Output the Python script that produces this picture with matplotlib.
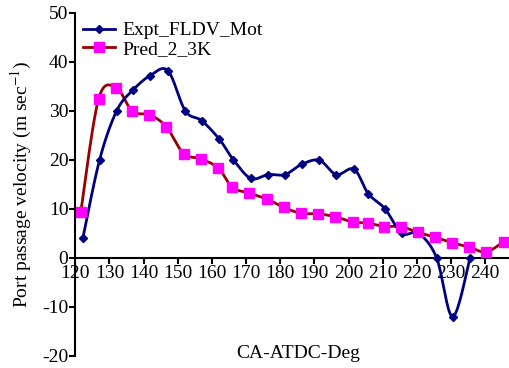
import matplotlib
matplotlib.use('Agg')
import matplotlib.pyplot as plt
import numpy as np

plt.rcParams['font.family'] = ['Liberation Serif', 'DejaVu Serif']
plt.rcParams['mathtext.fontset'] = 'stix'

# data
expt_ca = [122.2, 127.1, 132.1, 136.8, 141.9, 147.1, 152.2, 157.0, 162.2, 166.3,
           171.4, 176.4, 181.4, 186.3, 191.5, 196.4, 201.6, 205.8, 210.7, 215.6,
           220.5, 225.8, 230.5, 235.6]
expt_v = [4.0, 20.0, 30.0, 34.2, 37.2, 38.2, 30.0, 28.0, 24.2, 20.0,
          16.2, 17.0, 17.0, 19.1, 19.9, 17.0, 18.1, 13.1, 10.0, 5.0,
          5.0, 0.0, -12.0, 0.0]

pred_ca = [121.6, 126.8, 132.0, 136.7, 141.7, 146.6, 151.7, 156.8, 161.9, 166.0,
           171.0, 176.1, 181.0, 186.1, 191.0, 196.1, 201.3, 205.6, 210.5, 215.3,
           220.3, 225.4, 230.3, 235.4, 240.3, 245.4]
pred_v = [9.4, 32.4, 34.7, 29.9, 29.2, 26.8, 21.3, 20.2, 18.3, 14.4,
          13.2, 12.0, 10.3, 9.1, 9.0, 8.4, 7.3, 7.1, 6.4, 6.4,
          5.2, 4.2, 3.1, 2.2, 1.2, 3.3]

xticks = list(range(120, 241, 10))
yticks = list(range(-20, 51, 10))


def smooth(x, y, n=20):
    # excel style smoothed line (cardinal bezier through the points)
    x = np.asarray(x, float); y = np.asarray(y, float)
    px = np.concatenate([[x[0]], x, [x[-1]]])
    py = np.concatenate([[y[0]], y, [y[-1]]])
    xs, ys = [], []
    t = np.linspace(0, 1, n)
    for i in range(1, len(px) - 2):
        p0 = np.array([px[i], py[i]]); p3 = np.array([px[i+1], py[i+1]])
        c1 = p0 + (np.array([px[i+1], py[i+1]]) - np.array([px[i-1], py[i-1]])) / 6
        c2 = p3 - (np.array([px[i+2], py[i+2]]) - np.array([px[i], py[i]])) / 6
        b = ((1-t)**3)[:, None]*p0 + (3*(1-t)**2*t)[:, None]*c1 + (3*(1-t)*t**2)[:, None]*c2 + (t**3)[:, None]*p3
        xs.extend(b[:, 0]); ys.extend(b[:, 1])
    return xs, ys


fig = plt.figure(figsize=(5.09, 3.68), dpi=100)
ax = fig.add_axes([0.148, 0.033, 0.852, 0.932])

sx, sy = smooth(expt_ca, expt_v)
ax.plot(sx, sy, color='#000080', lw=2.0, zorder=3)
ax.plot(expt_ca, expt_v, 'D', color='#000080', ms=4.5, zorder=4)
sx, sy = smooth(pred_ca, pred_v)
ax.plot(sx, sy, color='#990000', lw=2.0, zorder=2)
ax.plot(pred_ca, pred_v, 's', color='#FF00FF', ms=7, zorder=5)

# legend proxies
ax.plot([], [], '-D', color='#000080', lw=2.0, ms=4.5, label='Expt_FLDV_Mot')
ax.plot([], [], '-s', color='#990000', mfc='#FF00FF', mec='#FF00FF', lw=2.0, ms=7, label='Pred_2_3K')
ax.legend(loc='upper left', bbox_to_anchor=(-0.022, 1.025), frameon=False, fontsize=14,
          numpoints=1, handlelength=1.65, handletextpad=0.35, labelspacing=0.05)

ax.set_xlim(120, 247)
ax.set_ylim(-20, 50)
ax.set_xticks(xticks)
ax.set_yticks(yticks)
ax.set_yticklabels([str(v) for v in yticks])
ax.spines['bottom'].set_position(('data', 0))
ax.spines['right'].set_visible(False)
ax.spines['top'].set_visible(False)
ax.spines['left'].set_linewidth(1.5)
ax.spines['bottom'].set_linewidth(1.5)
ax.tick_params(axis='both', labelsize=14, width=1.5, length=4, direction='out', pad=1)
ax.set_ylabel('Port passage velocity (m sec$^{-1}$)', fontsize=14, labelpad=6)
ax.text(0.585, 0.015, 'CA-ATDC-Deg', transform=fig.transFigure, ha='center', va='bottom', fontsize=14)

fig.savefig('out.png', dpi=100)
